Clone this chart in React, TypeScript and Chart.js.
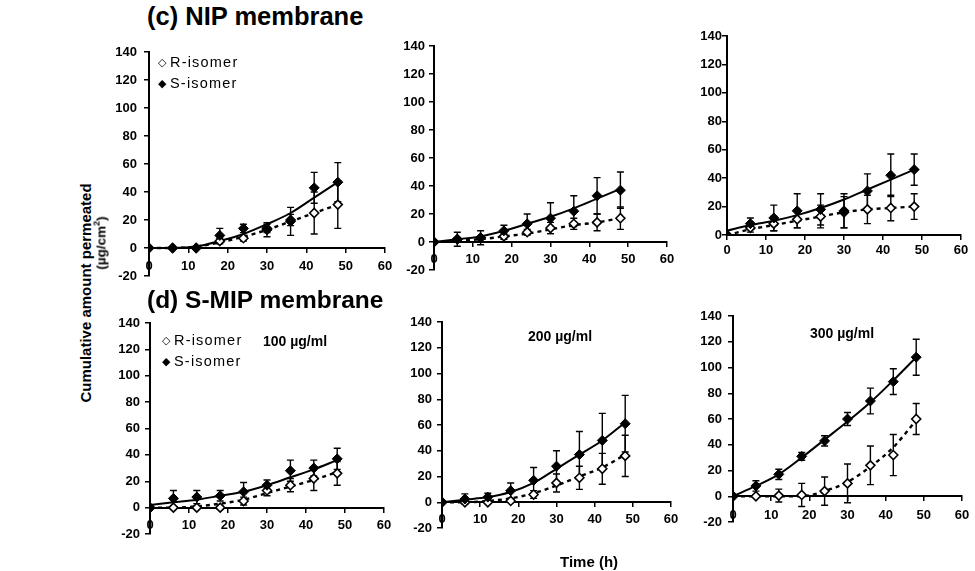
import React, { useEffect, useRef } from 'react';
import { Chart, registerables } from 'chart.js';
Chart.register(...registerables);

// ---------- data ----------
const TIMES = [0, 6, 12, 18, 24, 30, 36, 42, 48];

// (c) NIP membrane, 100 µg/ml
const nip100_S = [0, 0, 0, 9, 14, 13, 19, 43, 47];
const nip100_S_sd = [0, 0, 0, 5, 3, 5, 10, 11, 14];
const nip100_R = [0, 0, 0, 5, 7, 14, 20, 25, 31];
const nip100_R_sd = [0, 0, 0, 2, 2, 3, 4, 15, 17];
const nip100_S_fit = [0, 0, 1, 5, 10, 17, 25, 36, 47];
const nip100_R_fit = [0, 0, 1, 4, 8, 13, 19, 25, 31];

// (c) NIP membrane, 200 µg/ml
const nip200_S = [0, 2, 3, 8, 13, 17, 22, 33, 37];
const nip200_S_sd = [0, 5, 5, 4, 7, 11, 11, 13, 13];
const nip200_R = [0, 2, 3, 4, 7, 10, 13, 14, 17];
const nip200_R_sd = [0, 1, 1, 2, 2, 4, 4, 6, 8];
const nip200_S_fit = [0, 2, 4, 8, 13, 18, 24, 31, 38];
const nip200_R_fit = [0, 1, 2, 4, 6, 9, 12, 14, 17];

// (c) NIP membrane, 300 µg/ml
const nip300_S = [0, 8, 12, 17, 18, 17, 31, 42, 46];
const nip300_S_sd = [0, 4, 9, 12, 11, 12, 12, 15, 11];
const nip300_R = [0, 5, 8, 11, 13, 16, 18, 19, 20];
const nip300_R_sd = [0, 3, 5, 6, 8, 11, 10, 9, 9];
const nip300_S_fit = [3, 7, 10, 14, 19, 25, 32, 39, 46];
const nip300_R_fit = [0, 4, 7, 10, 13, 16, 18, 19, 20];

// (d) S-MIP membrane, 100 µg/ml
const smip100_S = [0, 7, 8, 9, 12, 17, 28, 30, 37];
const smip100_S_sd = [0, 6, 5, 4, 7, 4, 8, 6, 8];
const smip100_R = [0, 0, 0, 0, 5, 13, 17, 22, 26];
const smip100_R_sd = [0, 0, 0, 1, 3, 4, 5, 9, 9];
const smip100_S_fit = [2, 4, 6, 9, 12, 17, 23, 29, 36];
const smip100_R_fit = [0, 0, 1, 3, 6, 11, 16, 21, 27];

// (d) S-MIP membrane, 200 µg/ml
const smip200_S = [0, 2.5, 4, 9, 17, 28, 37, 48, 61];
const smip200_S_sd = [0, 4, 3, 6, 10, 12, 18, 21, 22];
const smip200_R = [0, 0, 0, 1, 6, 15, 19, 26, 36];
const smip200_R_sd = [0, 0, 0, 1, 3, 7, 9, 12, 16];
const smip200_S_fit = [0, 2, 4, 8, 15, 26, 37, 48, 62];
const smip200_R_fit = [0, 0, 1, 3, 7, 13, 20, 27, 37];

// (d) S-MIP membrane, 300 µg/ml
const smip300_S = [0, 8, 17, 31, 43, 60, 74, 89, 108];
const smip300_S_sd = [0, 4, 4, 3, 4, 5, 10, 10, 14];
const smip300_R = [0, 0, 0.5, 1, 4, 10, 24, 32, 60];
const smip300_R_sd = [0, 0, 5, 9, 11, 15, 15, 16, 12];
const smip300_S_fit = [0, 8, 17, 30, 44, 58, 73, 90, 108];
const smip300_R_fit = [0, 0, 0, 0, 4, 11, 23, 38, 59];

const X_MIN = 0, X_MAX = 60, X_STEP = 10;
const Y_MAX = 140, Y_STEP = 20;

// ---------- layout ----------
type Panel = {
  x0: number; x60: number; top: number; bottom: number; ymin: number; gap: number; xgap: number;
  S: number[]; Ssd: number[]; R: number[]; Rsd: number[]; Sfit: number[]; Rfit: number[];
};

const PANELS: Panel[] = [
  { x0: 149, x60: 385, top: 52, bottom: 276, ymin: -20, gap: 12, xgap: 7, S: nip100_S, Ssd: nip100_S_sd, R: nip100_R, Rsd: nip100_R_sd, Sfit: nip100_S_fit, Rfit: nip100_R_fit },
  { x0: 434, x60: 667, top: 46, bottom: 270, ymin: -20, gap: 9, xgap: 6, S: nip200_S, Ssd: nip200_S_sd, R: nip200_R, Rsd: nip200_R_sd, Sfit: nip200_S_fit, Rfit: nip200_R_fit },
  { x0: 727, x60: 961, top: 36, bottom: 235, ymin: 0, gap: 5, xgap: 4, S: nip300_S, Ssd: nip300_S_sd, R: nip300_R, Rsd: nip300_R_sd, Sfit: nip300_S_fit, Rfit: nip300_R_fit },
  { x0: 150, x60: 384, top: 323, bottom: 534, ymin: -20, gap: 10, xgap: 6, S: smip100_S, Ssd: smip100_S_sd, R: smip100_R, Rsd: smip100_R_sd, Sfit: smip100_S_fit, Rfit: smip100_R_fit },
  { x0: 442, x60: 671, top: 322, bottom: 528, ymin: -20, gap: 10, xgap: 5, S: smip200_S, Ssd: smip200_S_sd, R: smip200_R, Rsd: smip200_R_sd, Sfit: smip200_S_fit, Rfit: smip200_R_fit },
  { x0: 733, x60: 962, top: 316, bottom: 522, ymin: -20, gap: 11, xgap: 7, S: smip300_S, Ssd: smip300_S_sd, R: smip300_R, Rsd: smip300_R_sd, Sfit: smip300_S_fit, Rfit: smip300_R_fit },
];

const FONT = '"Liberation Sans", Arial, Helvetica, sans-serif';

const errorBarPlugin = {
  id: 'errorBars',
  beforeDatasetsDraw(chart: any) {
    const ctx = chart.ctx;
    const ys = chart.scales.y;
    ctx.save();
    ctx.strokeStyle = '#000';
    ctx.lineWidth = 1.4;
    chart.data.datasets.forEach((ds: any, i: number) => {
      if (!ds.errors) return;
      const meta = chart.getDatasetMeta(i);
      meta.data.forEach((pt: any, j: number) => {
        const e = ds.errors[j];
        if (!e) return;
        const v = ds.data[j].y;
        const yt = ys.getPixelForValue(v + e);
        const yb = ys.getPixelForValue(v - e);
        const cap = 3.5;
        ctx.beginPath();
        ctx.moveTo(pt.x, yt); ctx.lineTo(pt.x, yb);
        ctx.moveTo(pt.x - cap, yt); ctx.lineTo(pt.x + cap, yt);
        ctx.moveTo(pt.x - cap, yb); ctx.lineTo(pt.x + cap, yb);
        ctx.stroke();
      });
    });
    ctx.restore();
  },
};

const toXY = (ys: number[]) => TIMES.map((t, i) => ({ x: t, y: ys[i] }));

function ChartPanel({ p }: { p: Panel }) {
  const ref = useRef<HTMLCanvasElement>(null);
  const YW = 44, PT = 20, PR = 20, PB = 26;
  const w = p.x60 - p.x0 + YW + PR;
  const h = p.bottom - p.top + PT + PB;

  useEffect(() => {
    const tickFont = { family: FONT, size: 13, weight: 'bold' as const };
    const chart = new Chart(ref.current as HTMLCanvasElement, {
      type: 'scatter',
      data: {
        datasets: [
          {
            label: 'S-isomer', data: toXY(p.S), errors: p.Ssd,
            pointStyle: 'rectRot', pointRadius: 5, pointBackgroundColor: '#000', pointBorderColor: '#000',
            pointBorderWidth: 1, showLine: false,
          } as any,
          {
            label: 'R-isomer', data: toXY(p.R), errors: p.Rsd,
            pointStyle: 'rectRot', pointRadius: 4.5, pointBackgroundColor: '#fff', pointBorderColor: '#000',
            pointBorderWidth: 1.6, showLine: false,
          } as any,
          {
            label: 'S fit', data: toXY(p.Sfit), showLine: true, pointRadius: 0,
            borderColor: '#000', borderWidth: 2, tension: 0.4, cubicInterpolationMode: 'monotone',
          },
          {
            label: 'R fit', data: toXY(p.Rfit), showLine: true, pointRadius: 0,
            borderColor: '#000', borderWidth: 2.4, borderDash: [4, 4], tension: 0.4, cubicInterpolationMode: 'monotone',
          },
        ],
      },
      options: {
        animation: false,
        responsive: false,
        devicePixelRatio: 1,
        layout: { padding: { top: PT, right: PR, bottom: PB, left: 0 } },
        plugins: { legend: { display: false }, tooltip: { enabled: false } },
        scales: {
          x: {
            type: 'linear', min: X_MIN, max: X_MAX,
            position: { y: 0 } as any,
            ticks: { stepSize: X_STEP, font: tickFont, color: '#000', padding: p.xgap, maxRotation: 0 },
            grid: { display: true, drawOnChartArea: false, drawTicks: true, tickLength: 4, color: '#000', lineWidth: 1.5 },
            border: { display: true, color: '#000', width: 2 },
          },
          y: {
            type: 'linear', min: p.ymin, max: Y_MAX, position: 'left',
            ticks: { stepSize: Y_STEP, font: tickFont, color: '#000', padding: Math.max(p.gap - 5, 0) },
            grid: { display: true, drawOnChartArea: false, drawTicks: true, tickLength: 5, color: '#000', lineWidth: 1.5 },
            border: { display: true, color: '#000', width: 2 },
            afterFit: (s: any) => { s.width = YW; },
          },
        },
      },
      plugins: [errorBarPlugin],
    } as any);
    return () => chart.destroy();
  }, []);

  return (
    <canvas
      ref={ref}
      width={w}
      height={h}
      style={{ position: 'absolute', left: p.x0 - YW, top: p.top - PT, width: w, height: h }}
    />
  );
}

function Txt({ x, y, size, bold, children, style }: any) {
  return (
    <div
      style={{
        position: 'absolute', left: x, top: y - size * 0.6, fontFamily: FONT, fontSize: size,
        fontWeight: bold ? 'bold' : 'normal', lineHeight: 1.2, whiteSpace: 'nowrap', color: '#000', ...style,
      }}
    >
      {children}
    </div>
  );
}

function LegendItem({ x, y, filled, label }: any) {
  return (
    <Txt x={x} y={y} size={14.5}>
      <span style={{ fontSize: 11, position: 'relative', top: -1 }}>{filled ? '◆' : '◇'}</span>
      <span style={{ marginLeft: 4, letterSpacing: '1.2px' }}>{label}</span>
    </Txt>
  );
}

export default function App() {
  return (
    <div style={{ position: 'absolute', left: 0, top: 0, width: 975, height: 571, background: '#fff', overflow: 'hidden' }}>
      {PANELS.map((p, i) => <ChartPanel key={i} p={p} />)}

      <Txt x={147} y={16} size={25.5} bold>(c) NIP membrane</Txt>
      <Txt x={147} y={300} size={24.5} bold>(d) S-MIP membrane</Txt>

      <LegendItem x={158} y={63} filled={false} label="R-isomer" />
      <LegendItem x={158} y={84} filled={true} label="S-isomer" />

      <LegendItem x={162} y={341} filled={false} label="R-isomer" />
      <LegendItem x={162} y={362} filled={true} label="S-isomer" />
      <Txt x={263} y={341} size={14} bold>100 µg/ml</Txt>
      <Txt x={528} y={336} size={14} bold>200 µg/ml</Txt>
      <Txt x={810} y={333} size={14} bold>300 µg/ml</Txt>

      <div style={{
        position: 'absolute', left: 85, top: 293, transform: 'translate(-50%, -50%) rotate(-90deg)',
        fontFamily: FONT, fontSize: 15, fontWeight: 'bold', whiteSpace: 'nowrap', lineHeight: 1,
      }}>Cumulative amount permeated</div>
      <div style={{
        position: 'absolute', left: 100, top: 243, transform: 'translate(-50%, -50%) rotate(-90deg)',
        fontFamily: FONT, fontSize: 13.5, fontWeight: 'bold', whiteSpace: 'nowrap', lineHeight: 1,
      }}>(µg/cm<sup style={{ fontSize: 9 }}>2</sup>)</div>

      <Txt x={560} y={562} size={15} bold>Time (h)</Txt>
    </div>
  );
}
